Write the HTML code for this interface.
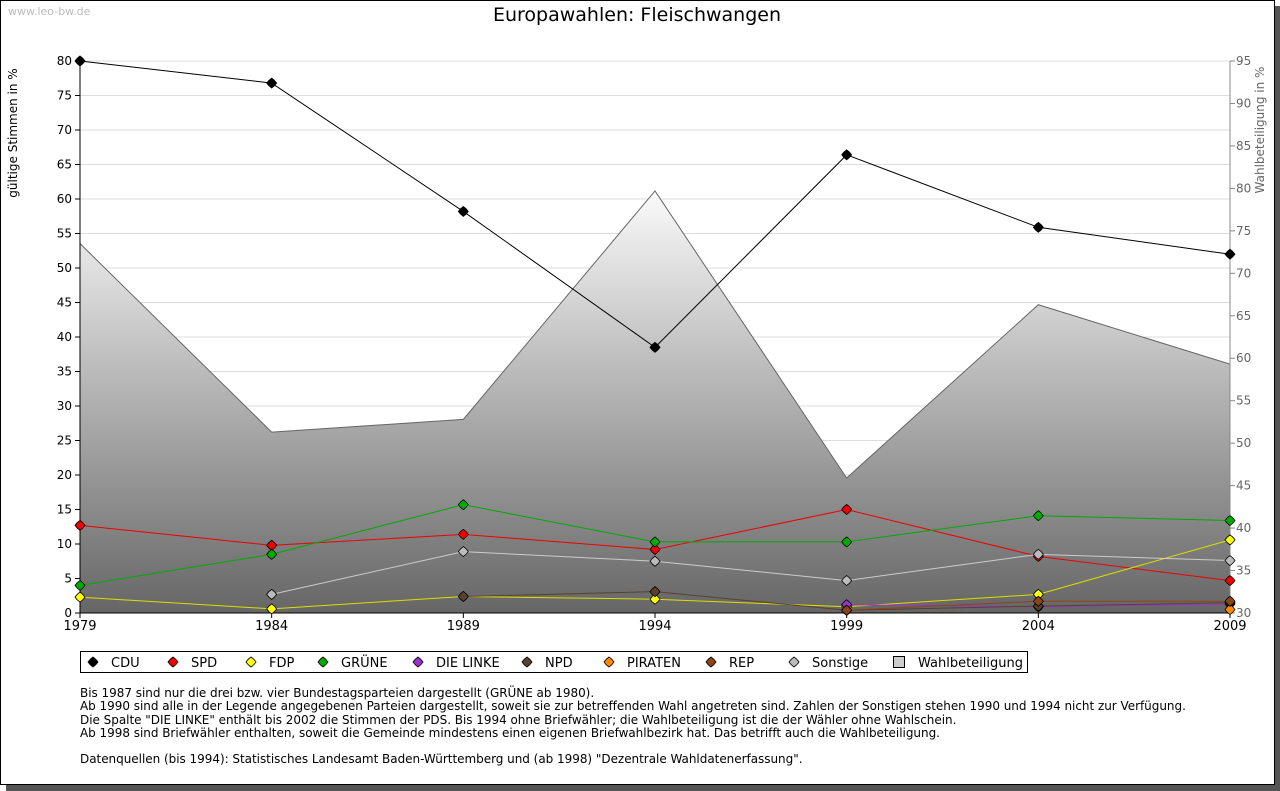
<!DOCTYPE html>
<html><head><meta charset="utf-8"><style>
body{margin:0;background:#fff;width:1280px;height:791px;overflow:hidden;font-family:"DejaVu Sans","Liberation Sans",sans-serif}
#frame{position:absolute;left:0;top:0;width:1273px;height:783px;border:1px solid #000;background:#fff}
#shadowR{position:absolute;left:1275px;top:6px;width:5px;height:785px;background:#555}
#shadowB{position:absolute;left:6px;top:785px;width:1274px;height:6px;background:#555}
.note{position:absolute;left:80px;top:687px;font-size:12px;line-height:13.3px;color:#000;letter-spacing:-0.03px}
svg text{font-family:"DejaVu Sans","Liberation Sans",sans-serif}
</style></head><body>
<div id="frame"></div>
<div id="shadowR"></div>
<div id="shadowB"></div>
<svg id="chart" width="1280" height="791" style="position:absolute;left:0;top:0">
<defs><linearGradient id="g" x1="0" y1="0" x2="0" y2="1"><stop offset="0" stop-color="#fafafa"/><stop offset="1" stop-color="#666"/></linearGradient></defs>
<text x="8" y="15" font-size="11" fill="#bbb">www.leo-bw.de</text>
<text x="637" y="21" font-size="19" text-anchor="middle">Europawahlen: Fleischwangen</text>
<text transform="translate(17,133) rotate(-90)" font-size="12" text-anchor="middle">gültige Stimmen in %</text>
<text transform="translate(1264,130) rotate(-90)" font-size="12" text-anchor="middle" fill="#666">Wahlbeteiligung in %</text>
<g id="grid"></g><g id="area"></g><g id="axes"></g><g id="series"></g><g id="legend"></g>
</svg>
<div class="note">Bis 1987 sind nur die drei bzw. vier Bundestagsparteien dargestellt (GRÜNE ab 1980).<br>Ab 1990 sind alle in der Legende angegebenen Parteien dargestellt, soweit sie zur betreffenden Wahl angetreten sind. Zahlen der Sonstigen stehen 1990 und 1994 nicht zur Verfügung.<br>Die Spalte "DIE LINKE" enthält bis 2002 die Stimmen der PDS. Bis 1994 ohne Briefwähler; die Wahlbeteiligung ist die der Wähler ohne Wahlschein.<br>Ab 1998 sind Briefwähler enthalten, soweit die Gemeinde mindestens einen eigenen Briefwahlbezirk hat. Das betrifft auch die Wahlbeteiligung.<br><br>Datenquellen (bis 1994): Statistisches Landesamt Baden-Württemberg und (ab 1998) "Dezentrale Wahldatenerfassung".</div>
<script>
const years=[1979,1984,1989,1994,1999,2004,2009];
const turnout=[73.5,51.3,52.8,79.7,45.9,66.3,59.3];
const cdu=[80,76.8,58.2,38.5,66.4,55.9,52.0];
const spd=[12.7,9.8,11.4,9.2,15.0,8.2,4.7];
const fdp=[2.3,0.6,2.4,2.0,0.9,2.7,10.6];
const gruene=[4.0,8.5,15.7,10.3,10.3,14.1,13.4];
const linke=[null,null,null,null,1.2,0.9,1.3];
const npd=[null,null,2.4,3.1,0.4,1.0,1.5];
const piraten=[null,null,null,null,null,null,0.5];
const rep=[null,null,null,null,0.4,1.7,1.7];
const sonstige=[null,2.7,8.9,7.5,4.7,8.5,7.6];
const leftTicks=[0,5,10,15,20,25,30,35,40,45,50,55,60,65,70,75,80];
const rightTicks=[30,35,40,45,50,55,60,65,70,75,80,85,90,95];
const series=[["CDU",cdu,"#000"],["SPD",spd,"#e00"],["FDP",fdp,"#ff0"],["GRÜNE",gruene,"#0a0"],["DIE LINKE",linke,"#93c"],["NPD",npd,"#5a4030"],["PIRATEN",piraten,"#f80"],["REP",rep,"#8b4513"],["Sonstige",sonstige,"#bbb"]];
const lineCol={"FDP":"#dd0","Sonstige":"#ccc"};
const X0=80,X1=1230,Y0=613,Y1=61;
const x=y=>X0+(y-years[0])/(years[years.length-1]-years[0])*(X1-X0);
const yl=v=>Y0-v/80*(Y0-Y1);
const yr=v=>Y0-(v-30)/65*(Y0-Y1);
const NS="http://www.w3.org/2000/svg";
function mk(t,a,p){const e=document.createElementNS(NS,t);for(const k in a)e.setAttribute(k,a[k]);p.appendChild(e);return e;}
const G=id=>document.getElementById(id);
leftTicks.forEach(t=>{
 const l=mk("line",{x1:X0,x2:X1,y1:yl(t),y2:yl(t),stroke:"#ddd"},G("grid"));
 
 
 const tx=mk("text",{x:72,y:yl(t)+4,"font-size":12,"text-anchor":"end"},G("axes"));tx.textContent=t;
 
 
 mk("line",{x1:X0-5,x2:X0,y1:yl(t),y2:yl(t),stroke:"#000"},G("axes"));
});
rightTicks.forEach(t=>{
 const tx=mk("text",{x:1236,y:yr(t)+4,"font-size":12,fill:"#666"},G("axes"));tx.textContent=t;
 
 
 mk("line",{x1:X1,x2:X1+5,y1:yr(t),y2:yr(t),stroke:"#888"},G("axes"));
});
let d="M"+X0+","+Y0;years.forEach((y,i)=>d+=" L"+x(y)+","+yr(turnout[i]));d+=" L"+X1+","+Y0+"Z";
const ar=mk("path",{d:d,fill:"url(#g)",stroke:"#666"},G("area"));


mk("line",{x1:X0,x2:X0,y1:Y1,y2:Y0,stroke:"#000"},G("axes"));
mk("line",{x1:X1,x2:X1,y1:Y1,y2:Y0,stroke:"#888"},G("axes"));
mk("line",{x1:X0,x2:X1,y1:Y0,y2:Y0,stroke:"#000"},G("axes"));
years.forEach(y=>{
 mk("line",{x1:x(y),x2:x(y),y1:Y0,y2:Y0+5,stroke:"#000"},G("axes"));
 const tx=mk("text",{x:x(y),y:Y0+17,"font-size":13,"text-anchor":"middle"},G("axes"));tx.textContent=y;
 
 
});
function diamond(cx,cy,c,p){return mk("path",{d:`M${cx},${cy-5} Q${cx+3},${cy-3} ${cx+5},${cy} Q${cx+3},${cy+3} ${cx},${cy+5} Q${cx-3},${cy+3} ${cx-5},${cy} Q${cx-3},${cy-3} ${cx},${cy-5}Z`,fill:c,stroke:"#000","stroke-width":0.8},p);}
series.forEach(([name,vals,c])=>{
 const g=mk("g",{},G("series"));
 
 
 let pts=[];vals.forEach((v,i)=>{if(v!=null)pts.push([x(years[i]),yl(v)]);});
 if(pts.length>1)mk("polyline",{points:pts.map(p=>p.join(",")).join(" "),fill:"none",stroke:lineCol[name]||c,"stroke-width":1},g);
 pts.forEach(p=>{const m=diamond(p[0],p[1],c,g);
  
  });
});
const lg=G("legend");
const box=mk("rect",{x:80.5,y:651.5,width:947,height:21,fill:"#fff",stroke:"#000"},lg);


const lx=[93,173,251,323,418,527,609,711,794,898];
series.forEach(([name,vals,c],i)=>{
 diamond(lx[i],662,c,lg);
 const t=mk("text",{x:lx[i]+18,y:667,"font-size":13},lg);t.textContent=name;
 
 
});
mk("rect",{x:893.5,y:656.5,width:11,height:11,fill:"#ccc",stroke:"#000"},lg);
const tw=mk("text",{x:918,y:667,"font-size":13},lg);tw.textContent="Wahlbeteiligung";


</script>
</body></html>
